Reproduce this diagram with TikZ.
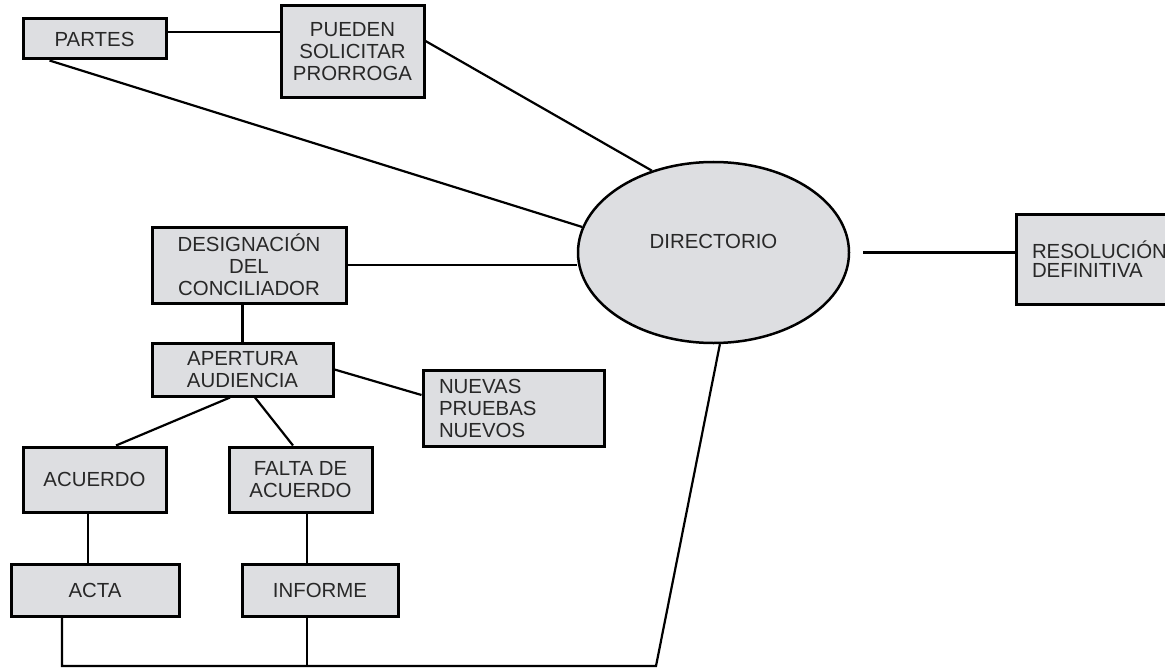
\documentclass[tikz,border=0pt]{standalone}
\usepackage{fontspec}
\setmainfont{Liberation Sans}
\usepackage{xcolor}
\usepackage{tikz}
\usetikzlibrary{positioning}
\usetikzlibrary{shapes.geometric}
\definecolor{relleno}{RGB}{221,222,225}
\definecolor{texto}{RGB}{40,40,40}

\begin{document}
\begin{tikzpicture}[x=0.5pt, y=-0.5pt,
    caja/.style={draw, line width=1.5pt, fill=relleno, text=texto,
      align=center, inner sep=2pt, font=\fontsize{10.2}{11}\selectfont},
    enlace/.style={line width=1.1pt}]

    \useasboundingbox (0,0) rectangle (1165,668);
    \clip (0,0) rectangle (1165,668);

    \node[caja, minimum width=71.5pt, minimum height=20pt] (partes)
      at (94.5,39) {PARTES};
    \node[caja, minimum width=71.5pt, minimum height=46pt] (pueden)
      at (352.5,52) {PUEDEN\\SOLICITAR\\PRORROGA};

    \node[caja, ellipse, line width=1.25pt, minimum width=135.5pt,
      minimum height=90.5pt, text height=7pt, text depth=10.5pt] (dir)
      at (713.5,252.5) {DIRECTORIO};

    \node[caja, align=left, text width=70pt, inner xsep=8pt,
      minimum height=45pt, font=\fontsize{10.2}{9.5}\selectfont] (resol)
      at (1102,259) {RESOLUCIÓN\\DEFINITIVA};

    \node[caja, minimum width=97pt, minimum height=38pt, inner ysep=1pt] (desig)
      at (249,265) {DESIGNACIÓN\\DEL\\CONCILIADOR};
    \node[caja, minimum width=90.5pt, minimum height=26.5pt] (apert)
      at (242.5,369.5) {APERTURA\\AUDIENCIA};
    \node[caja, align=left, text width=74.5pt, inner xsep=8pt,
      minimum height=38pt] (nuevas)
      at (513.5,408) {NUEVAS\\PRUEBAS\\NUEVOS};

    \node[caja, minimum width=71.5pt, minimum height=32.5pt] (acuerdo)
      at (94.5,479.5) {ACUERDO};
    \node[caja, minimum width=71.5pt, minimum height=32.5pt] (falta)
      at (300.5,479.5) {FALTA DE\\ACUERDO};
    \node[caja, minimum width=84pt, minimum height=26pt] (acta)
      at (95,590) {ACTA};
    \node[caja, minimum width=78pt, minimum height=26pt] (informe)
      at (320,590) {INFORME};

    \coordinate (pie) at (656,666);

    % ramas superiores
    \draw[enlace] ([yshift=3.5pt]partes.east) -- ([yshift=3.5pt]partes.east -| pueden.west);
    \draw[enlace] ([xshift=14pt]partes.south west) -- (dir.169);
    \draw[enlace] ([yshift=5.5pt]pueden.east) -- (dir.127);
    \draw[enlace, shorten <=6.5pt] (dir.east) -- (dir.east -| resol.west);

    % conciliacion
    \draw[enlace] (desig.east) -- (desig.east -| dir.west);
    \draw[enlace] (apert.north |- desig.south) -- (apert.north);
    \draw[enlace] (apert.east) -- ([yshift=6.5pt]nuevas.west);
    \draw[enlace] ([xshift=-6.25pt]apert.south) -- ([xshift=10.75pt]acuerdo.north);
    \draw[enlace] ([xshift=6.25pt]apert.south) -- ([xshift=-3.75pt]falta.north);
    \draw[enlace] ([xshift=-3.25pt]acuerdo.south) -- ([xshift=-3.25pt]acuerdo.south |- acta.north);
    \draw[enlace] ([xshift=3.25pt]falta.south) -- ([xshift=3.25pt]falta.south |- informe.north);

    % retorno al directorio
    \draw[enlace] ([xshift=-16.5pt]acta.south) |- (pie) -- (dir.-86);
    \draw[enlace] ([xshift=-6.5pt]informe.south) -- ([xshift=-6.5pt]informe.south |- pie);

  \end{tikzpicture}
\end{document}
